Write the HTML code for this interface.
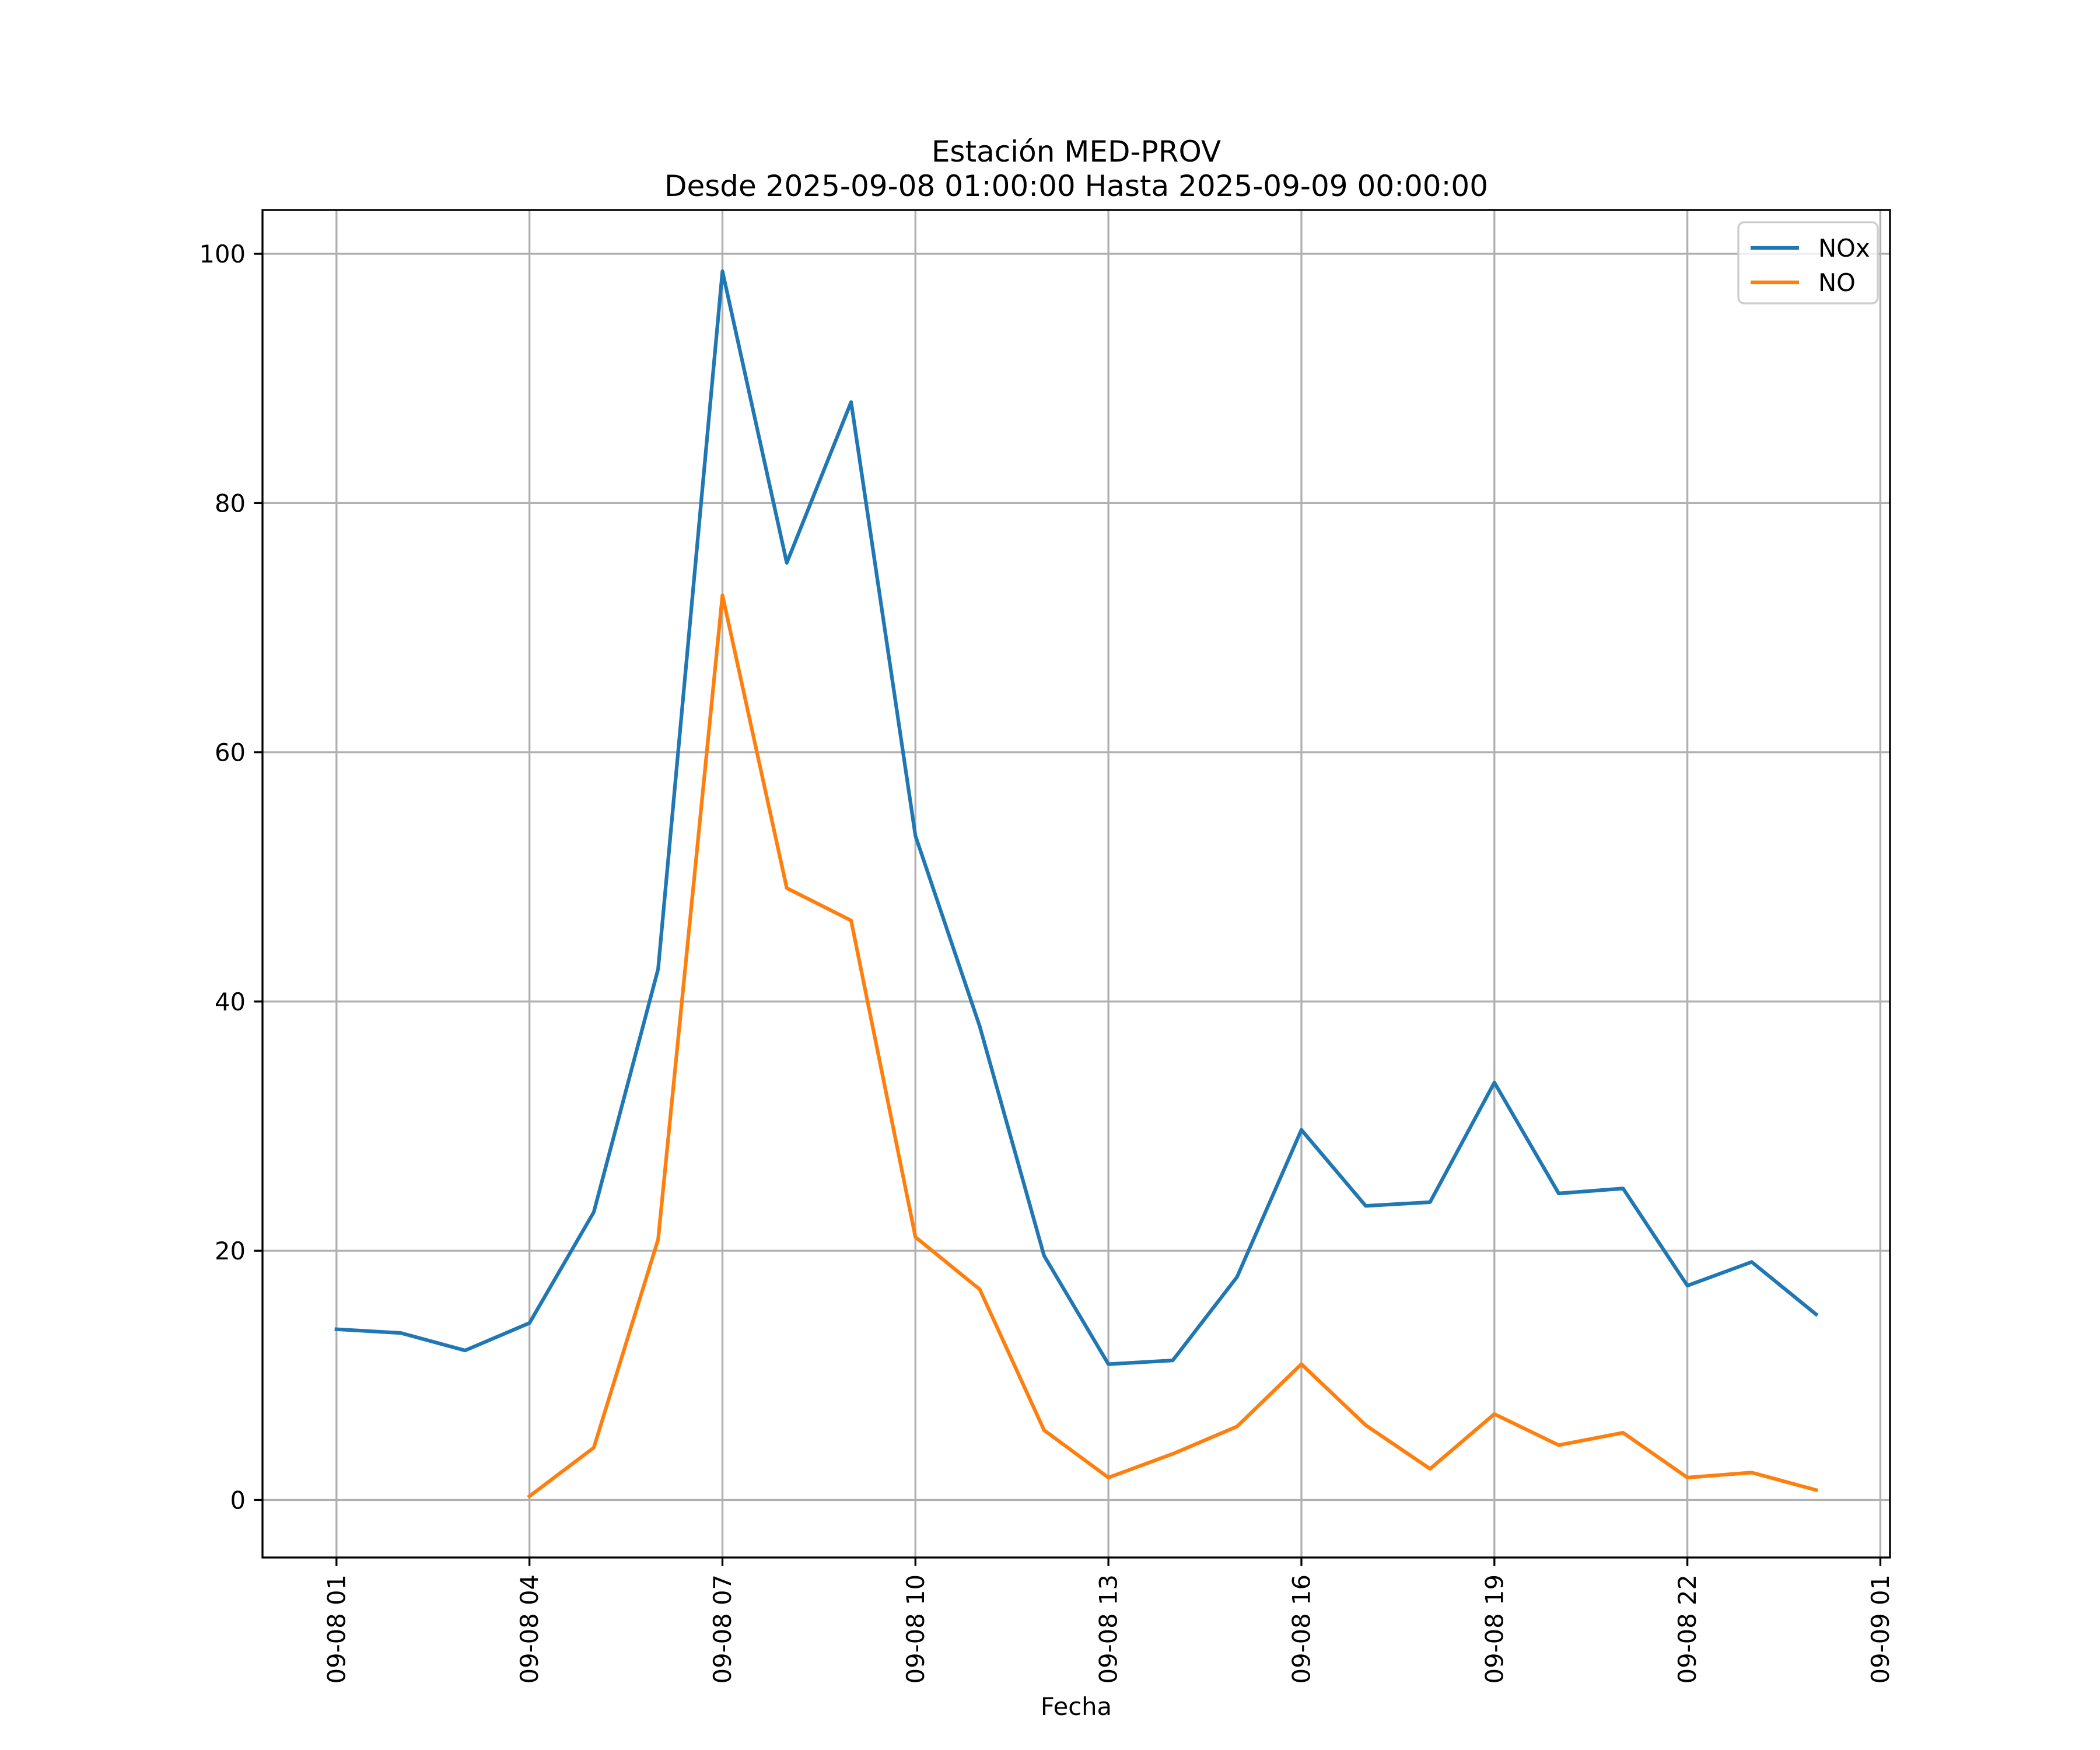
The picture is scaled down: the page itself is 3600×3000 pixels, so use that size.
<!DOCTYPE html>
<html><head><meta charset="utf-8"><style>
html,body{margin:0;padding:0;background:#fff;}
svg{display:block;font-family:"DejaVu Sans","Liberation Sans",sans-serif;}
</style></head><body>
<svg id="chart" width="3600" height="3000" viewBox="0 0 3600 3000" xmlns="http://www.w3.org/2000/svg">
<rect x="0" y="0" width="3600" height="3000" fill="#fff"/>
<text x="1845" y="277" font-size="50" text-anchor="middle">Estación MED-PROV</text>
<text x="1845" y="336" font-size="50" text-anchor="middle">Desde 2025-09-08 01:00:00 Hasta 2025-09-09 00:00:00</text>
<g id="grid"></g>
<g id="series"></g>
<rect x="450" y="360" width="2790" height="2310" fill="none" stroke="#000" stroke-width="3.33"/>
<g id="ticks"></g>
<text x="1845" y="2940" font-size="41.7" text-anchor="middle">Fecha</text>
<g>
<rect x="2980" y="381" width="239" height="139" rx="10" fill="#fff" fill-opacity="0.8" stroke="#ccc" stroke-width="3.33"/>
<line x1="3001" y1="425" x2="3084" y2="425" stroke="#1f77b4" stroke-width="6.25"/>
<text x="3117" y="440" font-size="41.7">NOx</text>
<line x1="3001" y1="484" x2="3084" y2="484" stroke="#ff7f0e" stroke-width="6.25"/>
<text x="3117" y="499" font-size="41.7">NO</text>
</g>
</svg>
<script>
const noxHours = [1,2,3,4,5,6,7,8,9,10,11,12,13,14,15,16,17,18,19,20,21,22,23,24];
const noxValues = [13.7,13.4,12.0,14.2,23.1,42.6,98.6,75.2,88.1,53.3,38.0,19.6,10.9,11.2,17.9,29.7,23.6,23.9,33.5,24.6,25.0,17.2,19.1,14.9];
const noHours = [4,5,6,7,8,9,10,11,12,13,14,15,16,17,18,19,20,21,22,23,24];
const noValues = [0.3,4.2,20.9,72.6,49.1,46.5,21.1,16.9,5.6,1.8,3.7,5.9,10.9,6.0,2.5,6.9,4.4,5.4,1.8,2.2,0.8];
const xTickHours = [1,4,7,10,13,16,19,22,25];
const xTickLabels = ["09-08 01","09-08 04","09-08 07","09-08 10","09-08 13","09-08 16","09-08 19","09-08 22","09-09 01"];
const yTicks = [0,20,40,60,80,100];

const NS="http://www.w3.org/2000/svg";
const L=450,R=3240,T=360,B=2670;
const allH=noxHours.concat(noHours), allV=noxValues.concat(noValues);
const hMin=Math.min(...allH), hMax=Math.max(...allH);
const vMin=Math.min(...allV), vMax=Math.max(...allV);
const hPad=(hMax-hMin)*0.05, vPad=(vMax-vMin)*0.05;
const x0=hMin-hPad, x1=hMax+hPad, y0=vMin-vPad, y1=vMax+vPad;
function sx(h){return L+(h-x0)/(x1-x0)*(R-L);}
function sy(v){return B-(v-y0)/(y1-y0)*(B-T);}
function mk(tag,attrs,parent){const e=document.createElementNS(NS,tag);for(const k in attrs)e.setAttribute(k,attrs[k]);parent.appendChild(e);return e;}
const grid=document.getElementById('grid'), ticks=document.getElementById('ticks'), series=document.getElementById('series');
xTickHours.forEach((h,i)=>{
  const x=sx(h);
  const g=mk('line',{x1:x,y1:T,x2:x,y2:B,stroke:'#b0b0b0','stroke-width':3.33},grid);
  
  
  const t=mk('line',{x1:x,y1:B,x2:x,y2:B+14.6,stroke:'#000','stroke-width':3.33},ticks);
  
  
  const lb=mk('text',{x:0,y:0,'font-size':41.7,'text-anchor':'end','dominant-baseline':'central',transform:`translate(${x},${B+29}) rotate(-90)`},ticks);
  lb.textContent=xTickLabels[i];
  
  
});
yTicks.forEach(v=>{
  const y=sy(v);
  const g=mk('line',{x1:L,y1:y,x2:R,y2:y,stroke:'#b0b0b0','stroke-width':3.33},grid);
  
  
  const t=mk('line',{x1:L-14.6,y1:y,x2:L,y2:y,stroke:'#000','stroke-width':3.33},ticks);
  
  
  const lb=mk('text',{x:L-29,y:y+15,'font-size':41.7,'text-anchor':'end'},ticks);
  lb.textContent=String(v);
  
  
});
function line(hs,vs,color,name){
  const p=mk('polyline',{points:hs.map((h,i)=>sx(h)+','+sy(vs[i])).join(' '),fill:'none',stroke:color,'stroke-width':6.25,'stroke-linejoin':'round','stroke-linecap':'square'},series);
  
  
}
line(noxHours,noxValues,'#1f77b4','nox-line');
line(noHours,noValues,'#ff7f0e','no-line');
</script>
</body></html>
